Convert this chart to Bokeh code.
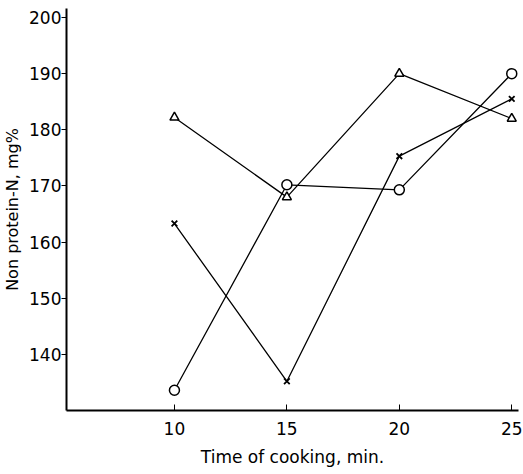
from bokeh.plotting import figure
from bokeh.models import FixedTicker, Range1d
from bokeh.embed import file_html
from bokeh.resources import INLINE

time_min = [10, 15, 20, 25]
circle_vals = [133.6, 170.2, 169.3, 190.0]
triangle_vals = [182.2, 168.0, 190.0, 182.0]
cross_vals = [163.3, 135.2, 175.3, 185.5]
x_ticks = [10, 15, 20, 25]
y_ticks = [140, 150, 160, 170, 180, 190, 200]

FONT = "DejaVu Sans"

p = figure(width=523, height=474, output_backend="svg", toolbar_location=None,
           x_range=Range1d(5.2, 25.3), y_range=Range1d(130, 201.6),
           min_border_left=65, min_border_right=5, min_border_top=8, min_border_bottom=64)
p.outline_line_color = None
p.grid.visible = False

lw = 1.3
p.line(time_min, circle_vals, line_color="black", line_width=lw)
p.line(time_min, triangle_vals, line_color="black", line_width=lw)
p.line(time_min, cross_vals, line_color="black", line_width=lw)

p.scatter(time_min, circle_vals, marker="circle", size=10, fill_color="white",
          line_color="black", line_width=1.5)
p.scatter(time_min, triangle_vals, marker="triangle", size=9, fill_color="white",
          line_color="black", line_width=1.5)
p.scatter(time_min, cross_vals, marker="x", size=8, line_color="black", line_width=1.8)

xa = p.xaxis[0]
xa.ticker = FixedTicker(ticks=x_ticks)
xa.minor_tick_line_color = None
xa.major_tick_in = 6
xa.major_tick_out = 0
xa.axis_line_width = 2
xa.major_label_text_font = FONT
xa.major_label_text_font_size = "17px"
xa.major_label_text_color = "black"
xa.major_label_standoff = 11
xa.axis_label = "Time of cooking, min."
xa.axis_label_text_font = FONT
xa.axis_label_text_font_style = "normal"
xa.axis_label_text_font_size = "17px"
xa.axis_label_text_color = "black"
xa.axis_label_standoff = 9

ya = p.yaxis[0]
ya.ticker = FixedTicker(ticks=y_ticks)
ya.minor_tick_line_color = None
ya.major_tick_in = 0
ya.major_tick_out = 5
ya.axis_line_width = 2
ya.major_label_text_font = FONT
ya.major_label_text_font_size = "17px"
ya.major_label_text_color = "black"
ya.major_label_standoff = 0
ya.axis_label = "Non protein-N, mg%"
ya.axis_label_text_font = FONT
ya.axis_label_text_font_style = "normal"
ya.axis_label_text_font_size = "16px"
ya.axis_label_text_color = "black"
ya.axis_label_standoff = 4

open("out.html", "w").write(file_html(p, INLINE))
